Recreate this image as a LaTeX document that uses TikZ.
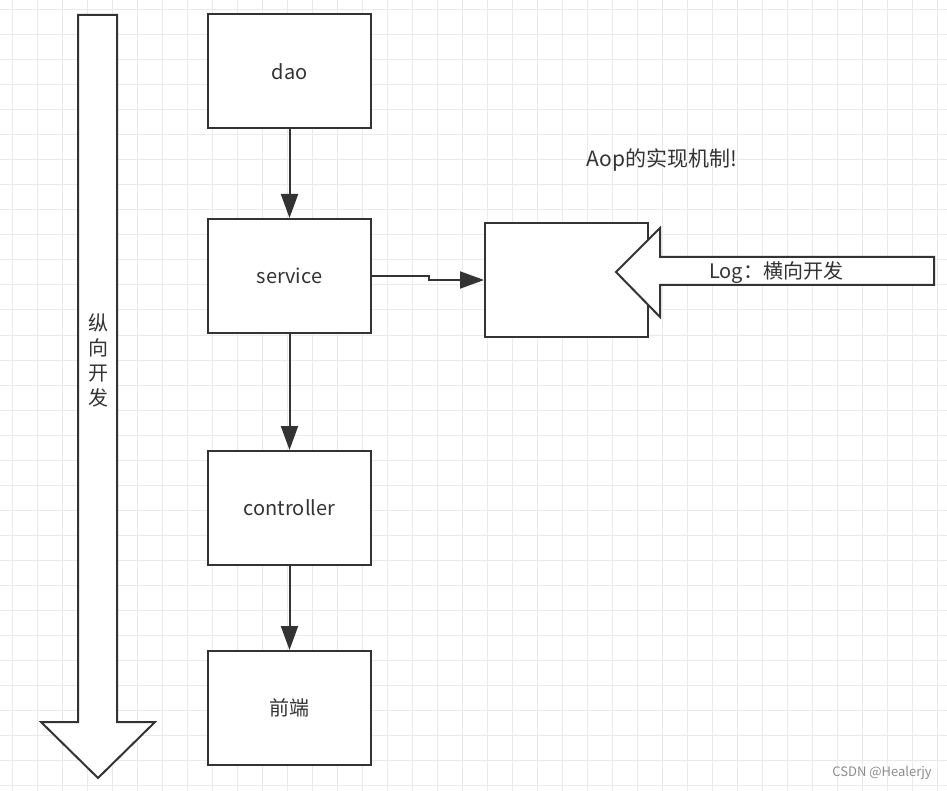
\documentclass[tikz,border=0pt]{standalone}
\usepackage{fontspec}
\setmainfont{Noto Sans CJK SC}
\usetikzlibrary{arrows.meta}
\definecolor{ln}{HTML}{333333}
\definecolor{gridc}{HTML}{EAEAEA}
\tikzset{
  blk/.style={draw=ln, line width=2pt, fill=white, minimum width=163pt, minimum height=114pt, inner sep=0pt, font=\fontsize{20}{22}\selectfont, text=ln},
  conn/.style={draw=ln, line width=2pt, -{Triangle[length=24pt,width=17pt]}},
  bigarrow/.style={draw=ln, line width=2pt, fill=white, line join=miter},
  lbl/.style={font=\fontsize{20}{22}\selectfont, text=ln, inner sep=0pt}
}
\begin{document}
\begin{tikzpicture}[x=1pt,y=-1pt]
\useasboundingbox (0,0) rectangle (947,791);
\fill[white] (0,0) rectangle (947,791);
% grid
\foreach \i in {0,...,37} {\draw[gridc, line width=1pt] (12+25*\i,0) -- (12+25*\i,791);}
\foreach \j in {0,...,31} {\draw[gridc, line width=1pt] (0,10+25*\j) -- (947,10+25*\j);}
% vertical big arrow
\draw[bigarrow] (78,15) -- (117,15) -- (117,722) -- (155,722) -- (98,778) -- (41,722) -- (78,722) -- cycle;
\node[lbl, align=center, font=\fontsize{20}{25}\selectfont] (vtext) at (98,360) {纵\\向\\开\\发};
% boxes
\node[blk] (dao) at (289.5,71.5) {dao};
\node[blk] (service) at (289.5,276) {service};
\node[blk] (controller) at (289.5,508) {controller};
\node[blk] (front) at (289.5,708) {前端};
\node[draw=ln, line width=2pt, fill=white, minimum width=163pt, minimum height=114pt, inner sep=0pt] (box) at (566.5,280) {};
% connectors
\draw[conn] (dao) -- (service);
\draw[conn] (service) -- (controller);
\draw[conn] (controller) -- (front);
\draw[conn] (service.east) -- ++(57,0) |- (box.west);
% horizontal big arrow
\draw[bigarrow] (616,272) -- (660,228) -- (660,257) -- (934,257) -- (934,285) -- (660,285) -- (660,317) -- cycle;
\node[lbl] (log) at (776,273) {Log：横向开发};
% title
\node[lbl, font=\fontsize{21}{22}\selectfont] (title) at (662,160) {Aop的实现机制!};
% watermark
\node[font=\fontsize{13}{14}\selectfont, text=black!45, inner sep=0pt] (wm) at (882,773) {CSDN @Healerjy};
\end{tikzpicture}
\end{document}
